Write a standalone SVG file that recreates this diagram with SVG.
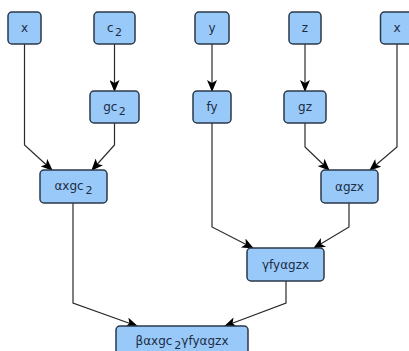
<svg xmlns="http://www.w3.org/2000/svg" width="409" height="351" viewBox="0 0 409 351">
<style>
.n rect{fill:#99c9f9;stroke:#2a3848;stroke-width:1.5}
.n text{font-family:"DejaVu Sans",sans-serif;font-size:12px;fill:#1c2c44;text-anchor:middle}
.e path{fill:none;stroke:#2a2a2a;stroke-width:1.2;marker-end:url(#ah)}
</style>
<defs>
<marker id="ah" viewBox="0 0 12 10" refX="11" refY="5" markerWidth="12" markerHeight="10" markerUnits="userSpaceOnUse" orient="auto">
<path d="M0,0 L12,5 L0,10 L3,5 Z" fill="#000"/>
</marker>
</defs>
<rect width="409" height="351" fill="#fff"/>
<g class="e">
<path d="M24.5,44 V145 L52,170"/>
<path d="M114.5,44 V91"/>
<path d="M114.5,123 V145 L92,170"/>
<path d="M212,44 V91"/>
<path d="M305,44 V91"/>
<path d="M212,123 V227 L253,248"/>
<path d="M305,123 V147 L329,170"/>
<path d="M397,44 V147 L370,170"/>
<path d="M349,203 V227 L314,248"/>
<path d="M73,203 V303 L137,326"/>
<path d="M286,281 V303 L225,326"/>
</g>
<g id="n_x1" class="n"><rect x="8" y="12" width="33" height="32" rx="4"/><text x="24.5" y="32">x</text></g>
<g id="n_c2" class="n"><rect x="94" y="12" width="41" height="32" rx="4"/><text x="114.5" y="32">c<tspan dx="1.5" dy="4" font-size="11">2</tspan></text></g>
<g id="n_y" class="n"><rect x="195" y="12" width="34" height="32" rx="4"/><text x="212" y="32">y</text></g>
<g id="n_z" class="n"><rect x="289" y="12" width="32" height="32" rx="4"/><text x="305" y="32">z</text></g>
<g id="n_x2" class="n"><rect x="380.5" y="12" width="33" height="32" rx="4"/><text x="397" y="32">x</text></g>
<g id="n_gc2" class="n"><rect x="90" y="91" width="49" height="32" rx="4"/><text x="114.5" y="111">gc<tspan dx="1.5" dy="4" font-size="11">2</tspan></text></g>
<g id="n_fy" class="n"><rect x="193" y="91" width="38" height="32" rx="4"/><text x="212" y="111">fy</text></g>
<g id="n_gz" class="n"><rect x="284" y="91" width="42" height="32" rx="4"/><text x="305" y="111">gz</text></g>
<g id="n_axgc2" class="n"><rect x="40" y="170" width="67" height="33" rx="4"/><text x="73.5" y="190">αxgc<tspan dx="2" dy="4" font-size="11">2</tspan></text></g>
<g id="n_agzx" class="n"><rect x="321" y="170" width="57" height="33" rx="4"/><text x="349.5" y="191">αgzx</text></g>
<g id="n_gfyagzx" class="n"><rect x="247" y="248" width="77" height="33" rx="4"/><text x="285.5" y="269">γfyαgzx</text></g>
<g id="n_final" class="n"><rect x="116" y="326" width="132" height="33" rx="4"/><text x="182" y="345">βαxgc<tspan dx="2" dy="4" font-size="11">2</tspan><tspan dy="-4">γfyαgzx</tspan></text></g>
</svg>
